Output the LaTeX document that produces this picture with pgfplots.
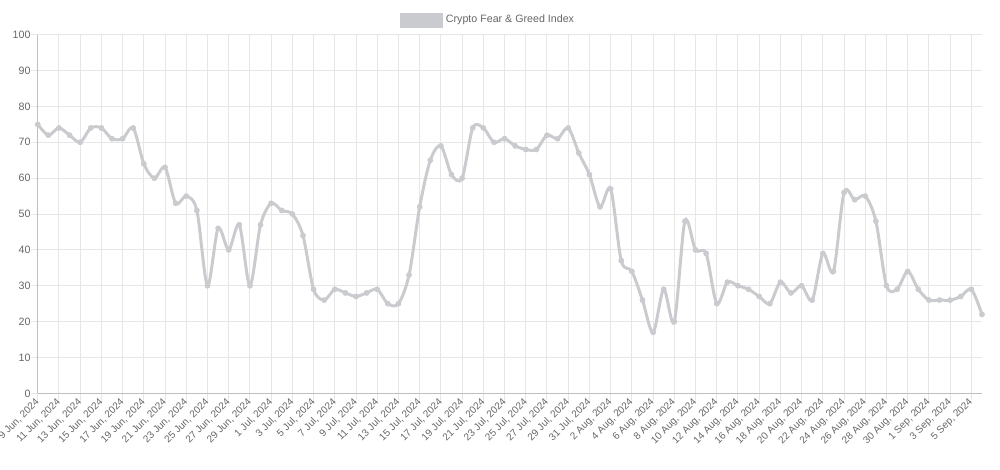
\documentclass[border=0pt]{standalone}
\usepackage{pgfplots}
\pgfplotsset{compat=1.18}
\usepackage{fontspec}
\setmainfont{Liberation Sans}
\definecolor{linec}{RGB}{201,203,207}
\definecolor{gridc}{RGB}{230,230,230}
\definecolor{zeroc}{RGB}{191,191,191}
\definecolor{textc}{RGB}{102,102,102}
\pgfplotstableread{
x y
0 75
1 72
2 74
3 72
4 70
5 74
6 74
7 71
8 71
9 74
10 64
11 60
12 63
13 53
14 55
15 51
16 30
17 46
18 40
19 47
20 30
21 47
22 53
23 51
24 50
25 44
26 29
27 26
28 29
29 28
30 27
31 28
32 29
33 25
34 25
35 33
36 52
37 65
38 69
39 61
40 60
41 74
42 74
43 70
44 71
45 69
46 68
47 68
48 72
49 71
50 74
51 67
52 61
53 52
54 57
55 37
56 34
57 26
58 17
59 29
60 20
61 48
62 40
63 39
64 25
65 31
66 30
67 29
68 27
69 25
70 31
71 28
72 30
73 26
74 39
75 34
76 56
77 54
78 55
79 48
80 30
81 29
82 34
83 29
84 26
85 26
86 26
87 27
88 29
89 22
}\fg
\begin{document}
\begin{tikzpicture}[x=1pt,y=1pt]
\path[use as bounding box] (0,0) rectangle (750,352.5);
\begin{axis}[
  at={(28.3pt,57.5pt)}, anchor=south west,
  scale only axis, width=708.2pt, height=268.95pt,
  xmin=0, xmax=89, ymin=0, ymax=100,
  axis lines=left, axis line style={-, draw=zeroc, line width=0.75pt},
  xtick={0,2,...,88},
  xticklabels={{9 Jun, 2024},{11 Jun, 2024},{13 Jun, 2024},{15 Jun, 2024},{17 Jun, 2024},{19 Jun, 2024},{21 Jun, 2024},{23 Jun, 2024},{25 Jun, 2024},{27 Jun, 2024},{29 Jun, 2024},
  {1 Jul, 2024},{3 Jul, 2024},{5 Jul, 2024},{7 Jul, 2024},{9 Jul, 2024},{11 Jul, 2024},{13 Jul, 2024},{15 Jul, 2024},{17 Jul, 2024},{19 Jul, 2024},{21 Jul, 2024},{23 Jul, 2024},{25 Jul, 2024},{27 Jul, 2024},{29 Jul, 2024},{31 Jul, 2024},
  {2 Aug, 2024},{4 Aug, 2024},{6 Aug, 2024},{8 Aug, 2024},{10 Aug, 2024},{12 Aug, 2024},{14 Aug, 2024},{16 Aug, 2024},{18 Aug, 2024},{20 Aug, 2024},{22 Aug, 2024},{24 Aug, 2024},{26 Aug, 2024},{28 Aug, 2024},{30 Aug, 2024},
  {1 Sep, 2024},{3 Sep, 2024},{5 Sep, 2024}},
  ytick={0,10,...,100},
  grid=major, major grid style={draw=gridc, line width=0.75pt},
  tick align=outside, major tick length=5.25pt,
  tick style={draw=gridc, line width=0.75pt},
  /pgf/number format/assume math mode=true,
  yticklabel style={font=\fontsize{8}{9.6}\selectfont, text=textc, anchor=east, inner sep=0pt},
  xticklabel style={font=\fontsize{7.5}{9}\selectfont, text=textc, rotate=45, anchor=east, inner sep=0pt},
  legend style={at={(axis description cs:0.3837,1.041)}, anchor=west, draw=none, fill=none,
    font=\fontsize{8}{9.6}\selectfont, text=textc, inner sep=0pt, nodes={inner sep=2pt}},
  clip=false,
]
\addplot[linec, line width=2.25pt, smooth, tension=0.5, mark=*, mark size=1.9pt,
  mark options={fill=linec, draw=linec, line width=0.5pt},
  legend image code/.code={\fill[linec] (0pt,-4.5pt) rectangle (30pt,4.5pt);}]
  table[x=x,y=y] {\fg};
\addlegendentry{Crypto Fear \& Greed Index}
\end{axis}
\end{tikzpicture}
\end{document}
